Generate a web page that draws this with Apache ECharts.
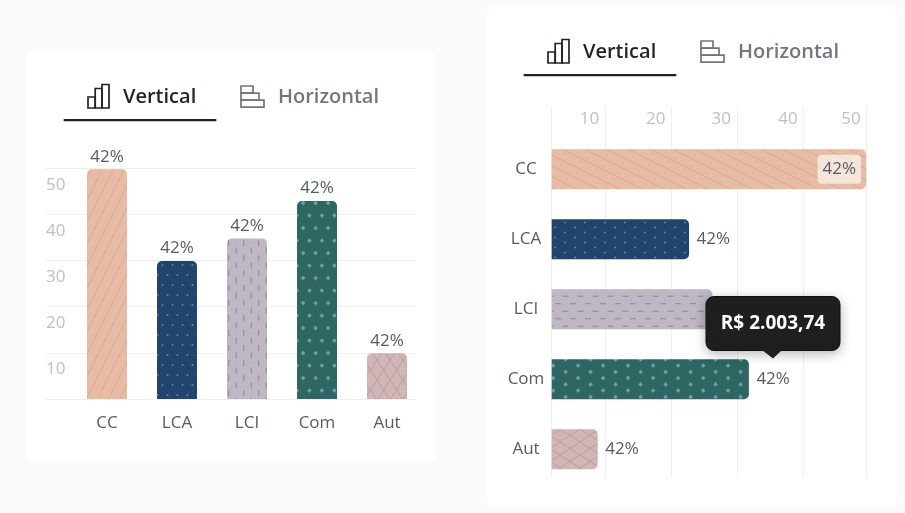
<!DOCTYPE html>
<html>
<head>
<meta charset="utf-8">
<style>html,body{margin:0;padding:0;background:#fafafa}#c{width:905px;height:513px}</style>
<script src="https://cdn.jsdelivr.net/npm/echarts@6/dist/echarts.min.js"></script>
</head>
<body>
<div id="c"></div>
<script>
const categories = ['CC', 'LCA', 'LCI', 'Com', 'Aut'];
const percentLabels = ['42%', '42%', '42%', '42%', '42%'];
const verticalValues = [49.8, 29.9, 34.8, 42.9, 9.9];
const horizontalValues = [49.9, 21.8, 25.5, 31.3, 7.3];
const verticalTicks = [10, 20, 30, 40, 50];
const horizontalTickLabels = ['10', '20', '30', '40', '50'];
const horizontalTickPositions = [8.5, 19, 29.4, 40, 50];
const tooltipText = 'R$ 2.003,74';
const tabLabels = ['Vertical', 'Horizontal'];

const FONT = '"Open Sans", sans-serif';
const TEXT = '#555b63', TICK = '#bfbfbf', GRID = '#eeeeee', DARK = '#1f2328', MUTED = '#71777e';

function tile(w, h, bg, draw) {
  const c = document.createElement('canvas');
  c.width = w; c.height = h;
  const g = c.getContext('2d');
  g.fillStyle = bg; g.fillRect(0, 0, w, h);
  draw(g);
  return { image: c, repeat: 'repeat' };
}
function seg(g, color, width, lines) {
  g.strokeStyle = color; g.lineWidth = width;
  lines.forEach(l => { g.beginPath(); g.moveTo(l[0], l[1]); g.lineTo(l[2], l[3]); g.stroke(); });
}
function dots(g, color, r, pts) {
  g.fillStyle = color;
  pts.forEach(p => { g.beginPath(); g.arc(p[0], p[1], r, 0, 7); g.fill(); });
}
function diamonds(g, color, r, pts) {
  g.fillStyle = color;
  pts.forEach(p => { g.beginPath(); g.moveTo(p[0]-r,p[1]); g.lineTo(p[0],p[1]-r); g.lineTo(p[0]+r,p[1]); g.lineTo(p[0],p[1]+r); g.closePath(); g.fill(); });
}
const fills = {
  v: [
    tile(11, 22, '#e6bda4', g => seg(g, '#dea68c', 1, [[-1,24,12,-2]])),
    tile(10, 20, '#20446d', g => dots(g, '#5f8199', 1.1, [[2.5,5],[7.5,15]])),
    tile(15, 15, '#bfb7c3', g => seg(g, '#8f8799', 1, [[3.75,0,3.75,6],[11.25,7.5,11.25,13.5]])),
    tile(25, 25, '#2d6662', g => diamonds(g, '#6f9f9b', 2.3, [[3.1,3.1],[15.6,3.1],[9.4,15.6],[21.9,15.6]])),
    tile(13, 20, '#d0b6b5', g => seg(g, '#bd9ca0', 1, [[0,0,13,20],[13,0,0,20]]))
  ],
  h: [
    tile(22, 11, '#e6bda4', g => seg(g, '#dea68c', 1, [[-2,-1,24,12]])),
    tile(20, 10, '#20446d', g => dots(g, '#5f8199', 1.1, [[5,2.5],[15,7.5]])),
    tile(15, 15, '#bfb7c3', g => seg(g, '#8f8799', 1, [[0,3.75,6,3.75],[7.5,11.25,13.5,11.25]])),
    tile(25, 25, '#2d6662', g => diamonds(g, '#6f9f9b', 2.3, [[3.1,3.1],[3.1,15.6],[15.6,9.4],[15.6,21.9]])),
    tile(20, 13, '#d0b6b5', g => seg(g, '#bd9ca0', 1, [[0,0,20,13],[0,13,20,0]]))
  ]
};

function rect(x, y, w, h, style, extra) {
  return Object.assign({ type: 'rect', silent: true, shape: { x, y, width: w, height: h }, style }, extra || {});
}
function tabs(dx, dy) {
  const s = { fill: 'none', stroke: DARK, lineWidth: 1.7 };
  const m = { fill: 'none', stroke: MUTED, lineWidth: 1.7 };
  const out = [];
  [[88, 97, 7.2, 11], [95.2, 88.5, 6.8, 19.5], [102, 84.5, 7, 23.5]].forEach(r =>
    out.push(rect(r[0]+dx, r[1]+dy, r[2], r[3], s, { z: 5 })));
  [[241, 86, 12, 7.2], [241, 93.2, 18, 7], [241, 100.2, 23, 7]].forEach(r =>
    out.push(rect(r[0]+dx, r[1]+dy, r[2], r[3], m, { z: 5 })));
  out.push({ type: 'text', silent: true, z: 5, x: 123 + dx, y: 97 + dy,
    style: { text: tabLabels[0], fill: DARK, font: '600 20px ' + FONT, textAlign: 'left', textVerticalAlign: 'middle' } });
  out.push({ type: 'text', silent: true, z: 5, x: 278 + dx, y: 97 + dy,
    style: { text: tabLabels[1], fill: MUTED, font: '600 20px ' + FONT, textAlign: 'left', textVerticalAlign: 'middle' } });
  out.push(rect(63.5 + dx, 119 + dy, 153, 2.2, { fill: DARK }, { z: 5, shape: { x: 63.5 + dx, y: 119 + dy, width: 153, height: 2.2, r: 1 } }));
  return out;
}

const graphics = [
  rect(26, 51, 410, 412, { fill: '#ffffff' }, { z: -10, shape: { x: 26, y: 51, width: 410, height: 412, r: 8 } }),
  rect(487, 6, 410, 501, { fill: '#ffffff' }, { z: -10, shape: { x: 487, y: 6, width: 410, height: 501, r: 8 } }),
  ...tabs(0, 0),
  ...tabs(460, -45),
  { type: 'polygon', silent: true, z: 100, shape: { points: [[762, 350], [782, 350], [773, 358.5]] }, style: { fill: '#1f1f1f' } },
  rect(706, 296.5, 134, 54, { fill: '#1f1f1f', stroke: '#111111', lineWidth: 1, shadowBlur: 12, shadowColor: 'rgba(0,0,0,0.28)', shadowOffsetY: 3 },
    { z: 99, shape: { x: 706, y: 296.5, width: 134, height: 54, r: 8 } }),
  { type: 'text', silent: true, z: 101, x: 773, y: 324,
    style: { text: tooltipText, fill: '#ffffff', font: '700 19px ' + FONT, textAlign: 'center', textVerticalAlign: 'middle' } }
];

const hiddenAxis = { show: false };
const option = {
  animation: false,
  backgroundColor: '#fafafa',
  textStyle: { fontFamily: FONT },
  graphic: { elements: graphics },
  tooltip: { show: false },
  grid: [
    { left: 46, width: 370, top: 168.3, height: 230.6 },
    { left: 72, width: 350, top: 168.3, height: 230.6 },
    { left: 551.7, width: 315, top: 107, height: 370 },
    { left: 551.7, width: 315, top: 134.3, height: 350 }
  ],
  xAxis: [
    { gridIndex: 0, type: 'category', data: categories, show: false },
    { gridIndex: 1, type: 'category', data: categories, axisLine: { show: false }, axisTick: { show: false },
      axisLabel: { color: TEXT, fontSize: 17, fontFamily: FONT, margin: 16 } },
    { gridIndex: 2, type: 'value', position: 'top', min: 0, max: 50,
      axisLine: { show: false },
      axisTick: { show: false, customValues: horizontalTickPositions },
      splitLine: { show: true, lineStyle: { color: GRID, width: 1 } },
      axisLabel: { show: true, inside: true, margin: 0, customValues: horizontalTickPositions,
        formatter: (v, i) => horizontalTickLabels[horizontalTickPositions.indexOf(v)],
        color: TICK, fontSize: 17, fontFamily: FONT, align: 'right', verticalAlign: 'top', padding: [4, 6, 0, 0] } },
    { gridIndex: 3, type: 'value', min: 0, max: 50, show: false }
  ],
  yAxis: [
    { gridIndex: 0, type: 'value', min: 0, max: 50, interval: 10,
      axisLine: { show: false }, axisTick: { show: false },
      splitLine: { show: true, lineStyle: { color: GRID, width: 1 } },
      axisLabel: { inside: true, margin: 0, showMinLabel: false, color: TICK, fontSize: 17, fontFamily: FONT,
        align: 'left', verticalAlign: 'top', padding: [8, 0, 0, 0] } },
    { gridIndex: 1, type: 'value', min: 0, max: 50, show: false },
    { gridIndex: 2, type: 'category', data: categories, axisTick: { show: false }, axisLabel: { show: false },
      axisLine: { show: true, lineStyle: { color: GRID, width: 1 } } },
    { gridIndex: 3, type: 'category', data: categories, inverse: true, axisLine: { show: false }, axisTick: { show: false },
      axisLabel: { color: TEXT, fontSize: 17, fontFamily: FONT, margin: 25.7, align: 'center' } }
  ],
  series: [
    { type: 'bar', xAxisIndex: 1, yAxisIndex: 1, barWidth: 40, silent: true, z: 3,
      data: verticalValues.map((v, i) => ({ value: v, itemStyle: { color: fills.v[i], borderRadius: [5, 5, 0, 0] } })),
      label: { show: true, position: 'top', distance: 4, color: TEXT, fontSize: 17, fontFamily: FONT,
        formatter: p => percentLabels[p.dataIndex] } },
    { type: 'bar', xAxisIndex: 3, yAxisIndex: 3, barWidth: 40, silent: true, z: 3,
      data: horizontalValues.map((v, i) => ({ value: v, itemStyle: { color: fills.h[i], borderRadius: [0, 5, 5, 0] },
        label: i === 0 ? { position: 'insideRight', distance: 5, backgroundColor: 'rgba(255,255,255,0.6)', padding: [6, 5, 6, 5], borderRadius: 4 } : undefined })),
      label: { show: true, position: 'right', distance: 7.5, color: TEXT, fontSize: 17, fontFamily: FONT,
        formatter: p => percentLabels[p.dataIndex] } }
  ]
};
const chart = echarts.init(document.getElementById('c'), null, { renderer: 'canvas' });
chart.setOption(option);
</script>
</body>
</html>
